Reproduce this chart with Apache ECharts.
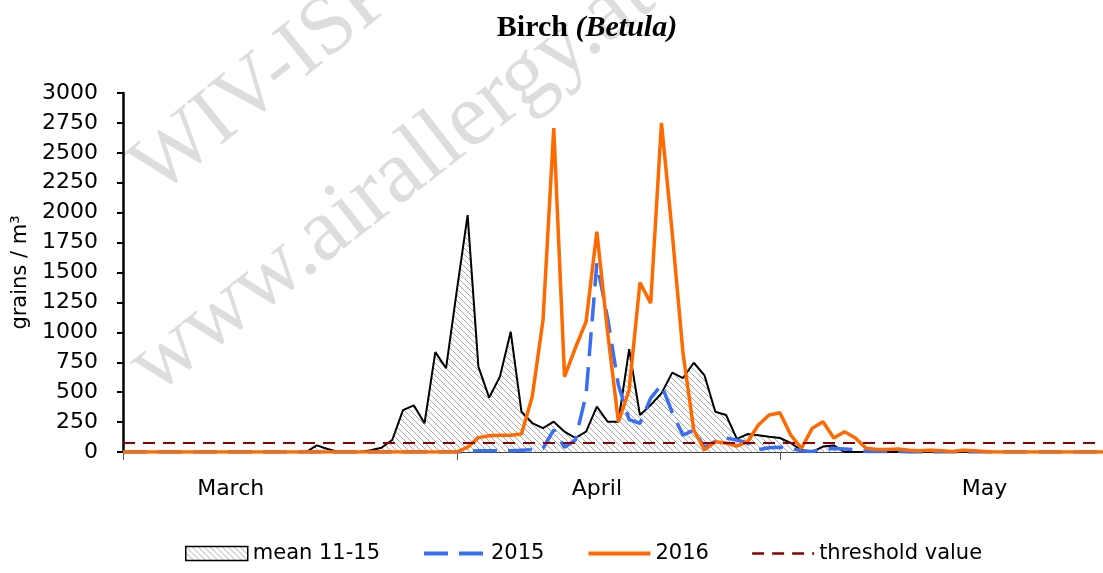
<!DOCTYPE html>
<html><head><meta charset="utf-8">
<script src="https://cdn.jsdelivr.net/npm/echarts@6/dist/echarts.min.js"></script>
<style>html,body{margin:0;padding:0;background:#fff}#c{width:1103px;height:573px}</style>
</head><body><div id="c"></div>
<script>
// ---- data ----
const MONTHS = ['March', 'April', 'May'];
const MONTH_DAYS = [31, 30, 31];
const Y_MIN = 0, Y_MAX = 3000, Y_STEP = 250;
const THRESHOLD = 75;

const mean1115 = [
  0,0,0,0,0,0,0,0,0,0, 0,0,0,0,0,0,0,0,55,25,
  0,0,0,15,35,100,350,390,240,835, 700,1350,1980,713,455,630,1005,337,242,200,
  253,170,117,170,380,253,253,860,309,393, 490,663,618,746,640,337,309,110,150,140,
  128,117,75,17,0,45,55,0,0,0, 0,0,0,0,0,0,0,0,0,0,
  0,0,0,0,0,0,0,0,0,0, 0,0
];
const y2015 = [
  0,0,0,0,0,0,0,0,0,0, 0,0,0,0,0,0,0,0,0,0,
  0,0,0,0,0,0,0,0,0,0, 0,0,5,10,10,10,10,15,20,30,
  184,40,100,480,1577,1120,560,270,240,450, 560,330,140,184,40,90,117,100,75,20,
  35,40,30,10,5,25,30,25,20,5, 5,5,5,0,0,0,0,0,0,0,
  0,0,0,0,0,0,0,0,0,0, 0,0
];
const y2016 = [
  0,0,0,0,0,0,0,0,0,0, 0,0,0,0,0,0,0,0,0,0,
  0,0,0,0,0,0,0,0,0,0, 0,0,40,120,135,140,140,150,462,1100,
  2707,630,869,1089,1841,1000,253,518,1415,1243, 2749,1830,827,184,17,86,75,50,86,226,
  309,328,142,31,198,253,117,170,117,31, 20,20,25,15,10,15,10,5,15,10,
  5,0,0,0,0,0,0,0,0,0, 0,0
];

// categories: one per day
const categories = [];
const monthStart = [];
MONTHS.forEach((m, i) => {
  monthStart.push(categories.length);
  for (let d = 1; d <= MONTH_DAYS[i]; d++) categories.push(d + ' ' + m);
});
// month label placement (day index where the label sits)
const LABEL_AT = {};
[10, 44, 80].forEach((idx, i) => { LABEL_AT[idx] = MONTHS[i]; });

// hatch pattern
const pc = document.createElement('canvas');
pc.width = 6; pc.height = 6;
const g = pc.getContext('2d');
g.fillStyle = '#ffffff'; g.fillRect(0, 0, 6, 6);
g.strokeStyle = '#a8a8a8'; g.lineWidth = 1;
[-6, 0, 6].forEach(k => { g.beginPath(); g.moveTo(k, 0); g.lineTo(k + 6, 6); g.stroke(); });
const hatch = { image: pc, repeat: 'repeat' };

const SANS = 'DejaVu Sans';
const NOSYM = { color: 'rgba(0,0,0,0)', borderColor: 'rgba(0,0,0,0)', borderWidth: 0 };
const chart = echarts.init(document.getElementById('c'), null, { renderer: 'canvas' });
chart.setOption({
  animation: false,
  backgroundColor: '#fff',
  title: {
    text: '{a|Birch }{b|(Betula)}',
    left: 582, top: 8, textAlign: 'center',
    textStyle: {
      rich: {
        a: { fontFamily: 'Liberation Serif', fontWeight: 'bold', fontSize: 30, color: '#000' },
        b: { fontFamily: 'Liberation Serif', fontWeight: 'bold', fontStyle: 'italic', fontSize: 30, color: '#000' }
      }
    }
  },
  graphic: [
    { type: 'text', x: 170, y: 212, rotation: 0.68, z: 0, silent: true,
      style: { text: 'WIV-ISP', font: '84px "Liberation Serif"', fill: 'rgba(170,170,170,0.4)', verticalAlign: 'bottom' } },
    { type: 'text', x: 168, y: 412, rotation: 0.66, z: 0, silent: true,
      style: { text: 'www.airallergy.at', font: '90px "Liberation Serif"', fill: 'rgba(170,170,170,0.4)', verticalAlign: 'bottom' } }
  ],
  grid: { left: 123, right: 0, top: 93, bottom: 121, containLabel: false },
  legend: {
    left: 180, bottom: 4, itemWidth: 62, itemHeight: 14, itemGap: 42,
    textStyle: { fontFamily: SANS, fontSize: 21, color: '#000' },
    data: [
      { name: 'mean 11-15', icon: 'rect', itemStyle: { color: hatch, borderColor: '#000', borderWidth: 1.5 } },
      { name: '2015', itemStyle: NOSYM, lineStyle: { width: 4, color: '#3a6ff5', type: [24, 11] } },
      { name: '2016', itemStyle: NOSYM, lineStyle: { width: 4, color: '#ff6a00' } },
      { name: 'threshold value', itemStyle: NOSYM, lineStyle: { width: 2.5, color: '#8b0000', type: [12, 8] } }
    ]
  },
  xAxis: {
    type: 'category', data: categories, boundaryGap: false,
    axisLine: { lineStyle: { color: '#000', width: 1.5 } },
    axisTick: { show: true, length: 8, interval: (i) => monthStart.indexOf(i) >= 0, lineStyle: { color: '#555', width: 1 } },
    axisLabel: {
      interval: (i) => LABEL_AT.hasOwnProperty(i),
      formatter: (v, i) => LABEL_AT[i] || '',
      margin: 26, fontFamily: SANS, fontSize: 22, color: '#000'
    },
    splitLine: { show: false }
  },
  yAxis: {
    type: 'value', min: Y_MIN, max: Y_MAX, interval: Y_STEP,
    name: 'grains / m³', nameLocation: 'middle', nameGap: 82,
    nameTextStyle: { fontFamily: SANS, fontSize: 21, color: '#000' },
    axisLine: { show: true, lineStyle: { color: '#000', width: 2.5 } },
    axisTick: { show: true, length: 6, lineStyle: { color: '#000', width: 2 } },
    axisLabel: { margin: 25, fontFamily: SANS, fontSize: 22, color: '#000', formatter: (v) => String(v) },
    splitLine: { show: false }
  },
  series: [
    { name: 'mean 11-15', type: 'line', data: mean1115, symbol: 'none', z: 2,
      lineStyle: { color: '#000', width: 2 }, itemStyle: { color: '#000' },
      areaStyle: { color: hatch, opacity: 1 } },
    { name: '2015', type: 'line', data: y2015, symbol: 'none', z: 3,
      lineStyle: { color: '#3a6ff5', width: 3.5, type: [24, 11] }, itemStyle: { color: '#3a6ff5' } },
    { name: '2016', type: 'line', data: y2016, symbol: 'none', z: 4,
      lineStyle: { color: '#ff6a00', width: 3.5 }, itemStyle: { color: '#ff6a00' } },
    { name: 'threshold value', type: 'line', data: [], symbol: 'none', z: 5,
      lineStyle: { color: '#8b0000', width: 2, type: [12, 8] }, itemStyle: { color: '#8b0000' },
      markLine: { symbol: 'none', silent: true, label: { show: false },
        lineStyle: { color: '#8b0000', width: 2, type: [12, 8] },
        data: [{ yAxis: THRESHOLD }] } }
  ]
});
</script>
</body></html>
